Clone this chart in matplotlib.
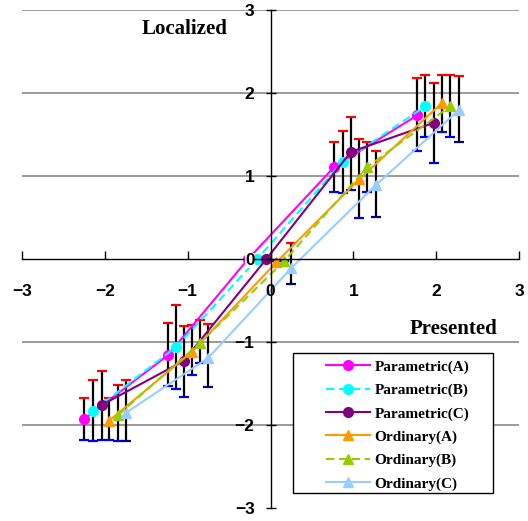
import matplotlib
matplotlib.use("Agg")
import matplotlib.pyplot as plt
from matplotlib.patches import Rectangle

# data: x (presented, with offset), y (localized), error bar ends
names = ["Parametric(A)", "Parametric(B)", "Parametric(C)",
         "Ordinary(A)", "Ordinary(B)", "Ordinary(C)"]

x_pa = [-2.25, -1.24, -0.27, 0.77, 1.77]
y_pa = [-1.93, -1.16, 0.0, 1.11, 1.73]
hi_pa = [-1.68, -0.77, 0.0, 1.41, 2.18]
lo_pa = [-2.18, -1.53, 0.0, 0.81, 1.30]

x_pb = [-2.14, -1.14, -0.16, 0.87, 1.87]
y_pb = [-1.83, -1.06, 0.0, 1.17, 1.84]
hi_pb = [-1.46, -0.55, 0.0, 1.54, 2.22]
lo_pb = [-2.19, -1.57, 0.0, 0.80, 1.47]

x_pc = [-2.04, -1.05, -0.05, 0.97, 1.97]
y_pc = [-1.76, -1.23, 0.0, 1.29, 1.64]
hi_pc = [-1.35, -0.81, 0.0, 1.71, 2.12]
lo_pc = [-2.18, -1.66, 0.0, 0.83, 1.16]

x_oa = [-1.95, -0.95, 0.07, 1.07, 2.07]
y_oa = [-1.95, -1.12, -0.04, 0.96, 1.88]
hi_oa = [-1.68, -0.80, -0.02, 1.45, 2.22]
lo_oa = [-2.18, -1.40, -0.02, 0.49, 1.53]

x_ob = [-1.84, -0.85, 0.16, 1.17, 2.17]
y_ob = [-1.88, -1.01, -0.03, 1.11, 1.84]
hi_ob = [-1.52, -0.74, -0.02, 1.41, 2.22]
lo_ob = [-2.19, -1.25, -0.02, 0.81, 1.47]

x_oc = [-1.74, -0.75, 0.25, 1.27, 2.28]
y_oc = [-1.85, -1.19, -0.11, 0.89, 1.80]
hi_oc = [-1.46, -0.78, 0.19, 1.30, 2.20]
lo_oc = [-2.19, -1.54, -0.30, 0.51, 1.41]

ticks = [-3, -2, -1, 0, 1, 2, 3]

xs = [x_pa, x_pb, x_pc, x_oa, x_ob, x_oc]
ys = [y_pa, y_pb, y_pc, y_oa, y_ob, y_oc]
his = [hi_pa, hi_pb, hi_pc, hi_oa, hi_ob, hi_oc]
los = [lo_pa, lo_pb, lo_pc, lo_oa, lo_ob, lo_oc]

colors = ["#FF00FF", "#00FFFF", "#800080", "#FF9900", "#99CC00", "#99CCFF"]
markers = ["o", "o", "o", "^", "^", "^"]
dashed = [False, True, False, False, True, False]
lowcap = ["#0000FF", "#0000FF", "#0000CC", "#0000FF", "#0000FF", "#000080"]

fig = plt.figure(figsize=(5.28, 5.21), dpi=100)
ax = fig.add_axes([22 / 528, 13 / 521, 497 / 528, 498 / 521])
ax.set_xlim(-3, 3)
ax.set_ylim(-3, 3)
ax.set_axisbelow(False)

for s in ["top", "right"]:
    ax.spines[s].set_visible(False)
ax.spines["left"].set_position(("data", 0))
ax.spines["bottom"].set_position(("data", 0))
ax.spines["left"].set_linewidth(1)
ax.spines["bottom"].set_linewidth(1)

for g in [-2, -1, 1, 2, 3]:
    ax.axhline(g, color="#808080", lw=1.1, zorder=0)

tickfont = {"family": "Liberation Sans", "weight": "bold", "size": 12.5}
ax.set_xticks(ticks)
ax.set_yticks(ticks)
ax.set_xticklabels([str(t) if t >= 0 else "\u2212" + str(-t) for t in ticks], fontdict=tickfont)
ax.set_yticklabels([str(t) if t >= 0 else "\u2212" + str(-t) for t in ticks], fontdict=tickfont)
ax.tick_params(axis="x", direction="in", length=6, width=1, pad=18)
ax.tick_params(axis="y", direction="inout", length=7, width=1, pad=8)
# the y "0" label sits on a white patch in the original
for lab in ax.get_yticklabels():
    if lab.get_text() == "0":
        lab.set_bbox(dict(facecolor="white", edgecolor="none", pad=0.2))

handles = []
for i in range(6):
    # error bars: black stem, red top cap, blue bottom cap
    ax.vlines(xs[i], los[i], his[i], color="black", lw=1.6, zorder=1)
    ax.plot(xs[i], his[i], ls="none", marker="_", ms=7, mew=1.6, color="#FF0000", zorder=1.2)
    ax.plot(xs[i], los[i], ls="none", marker="_", ms=7, mew=1.6, color=lowcap[i], zorder=1.2)
    ls = (0, (4, 2.2)) if dashed[i] else "-"
    h, = ax.plot(xs[i], ys[i], color=colors[i], lw=1.5, ls=ls, marker=markers[i],
                 ms=7, mec=colors[i], mfc=colors[i], label=names[i], zorder=2)
    handles.append(h)

ax.text(-1.04, 2.77, "Localized", ha="center", va="center",
        fontsize=15, fontweight="bold", family="Liberation Serif")
ax.text(2.21, -0.84, "Presented", ha="center", va="center",
        fontsize=15, fontweight="bold", family="Liberation Serif")

# legend box drawn separately so its padding matches
ax.add_patch(Rectangle((0.545, 0.030), 0.403, 0.281, transform=ax.transAxes,
                       facecolor="white", edgecolor="black", lw=1, zorder=4.5))
leg = ax.legend(handles=handles, loc="upper left", bbox_to_anchor=(0.612, 0.297),
                frameon=False, borderpad=0, borderaxespad=0, handlelength=2.9,
                handletextpad=0.25, labelspacing=0.62,
                prop={"family": "Liberation Serif", "weight": "bold", "size": 11})
leg.set_zorder(5)

fig.savefig("out.png", dpi=100)
